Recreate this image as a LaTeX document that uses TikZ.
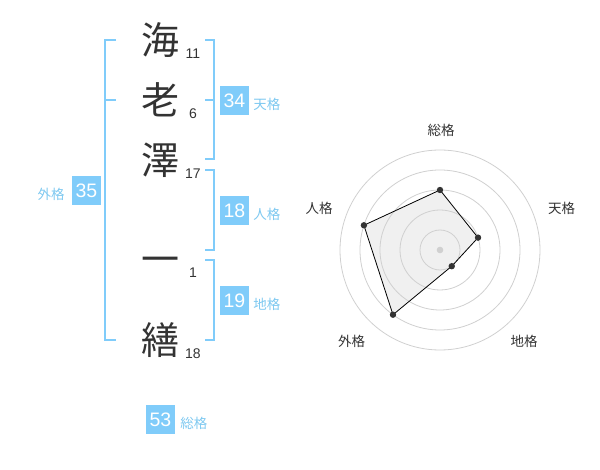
\documentclass[tikz,border=0pt]{standalone}
\usepackage{fontspec}
\setmainfont{Liberation Sans}
\newfontfamily\cjk{Noto Sans CJK JP}
\usetikzlibrary{positioning}
\definecolor{kakublue}{RGB}{128,204,250}
\definecolor{kakutext}{RGB}{125,200,240}
\definecolor{inkgray}{RGB}{51,51,51}
\definecolor{ringgray}{RGB}{208,208,208}
\definecolor{radarfill}{RGB}{240,240,240}

\begin{document}
\begin{tikzpicture}[x=1pt,y=-1pt,
        moji/.style={font=\cjk\fontsize{38}{38}\selectfont, text=inkgray, inner sep=0, text height=33.4pt, text depth=4.6pt},
        kakusu/.style={font=\fontsize{14}{14}\selectfont, text=inkgray, inner sep=0},
        kakubox/.style={fill=kakublue, text=white, minimum size=29pt, inner sep=0, font=\fontsize{19.5}{19.5}\selectfont},
        kakulabel/.style={font=\cjk\fontsize{13.5}{13.5}\selectfont, text=kakutext, inner sep=0, text height=11.9pt, text depth=1.6pt, yshift=-3.5pt},
        axislabel/.style={font=\cjk\fontsize{13.5}{13.5}\selectfont, text=inkgray, inner sep=0},
        bracket/.style={draw=kakublue, line width=2pt},
        ring/.style={draw=ringgray, line width=0.8pt}]
    \useasboundingbox (0,0) rectangle (600,470);
    \foreach \c/\n/\y [count=\i] in {海/11/40, 老/6/100, 澤/17/160, 一/1/259, 繕/18/340} {
        \node[moji] (moji\i) at (160,\y) {\c};
        \node[kakusu] (kakusu\i) at (193,\y+13.5) {\n};
    }
    \draw[bracket] (116,40) -| (105,340) -- (116,340);
    \draw[bracket] (105,100) -- (116,100);
    \draw[bracket] (205,40) -| (214,159) -- (205,159);
    \draw[bracket] (205,100) -- (214,100);
    \draw[bracket] (205,170) -| (214,250) -- (205,250);
    \draw[bracket] (205,260) -| (214,340) -- (205,340);
    \node[kakubox] (ten) at (234.5,100.5) {34};
    \node[kakubox] (jin) at (234.5,210.5) {18};
    \node[kakubox] (chi) at (234.5,300.5) {19};
    \node[kakubox] (gai) at (86.5,190.5) {35};
    \node[kakubox] (so) at (160.5,419.5) {53};
    \node[kakulabel, right=4pt of ten] (tenlabel) {天格};
    \node[kakulabel, right=4pt of jin] (jinlabel) {人格};
    \node[kakulabel, right=4pt of chi] (chilabel) {地格};
    \node[kakulabel, left=7pt of gai] (gailabel) {外格};
    \node[kakulabel, right=5pt of so] (solabel) {総格};
    \begin{scope}[shift={(440,250)}, yscale=-1]
        \foreach \a/\r/\lx/\ly/\k [count=\i] in {90/60/1/120/総格, 18/40/121.7/41.7/天格, -54/20/84/-91.7/地格, -126/80/-88.3/-91.7/外格, 162/80/-121/41.7/人格} {
            \coordinate (pt\i) at (\a:\r);
            \node[axislabel] (axis\i) at (\lx,\ly) {\k};
        }
        \fill[radarfill] (pt1) -- (pt2) -- (pt3) -- (pt4) -- (pt5) -- cycle;
        \foreach \r in {20,40,...,100}
            \draw[ring] (0,0) circle (\r pt);
        \draw[black, line width=0.8pt] (pt1) -- (pt2) -- (pt3) -- (pt4) -- (pt5) -- cycle;
        \foreach \i in {1,...,5}
            \fill[inkgray] (pt\i) circle (3.2pt);
        \fill[ringgray] (0,0) circle (3.3pt);
    \end{scope}
\end{tikzpicture}
\end{document}
